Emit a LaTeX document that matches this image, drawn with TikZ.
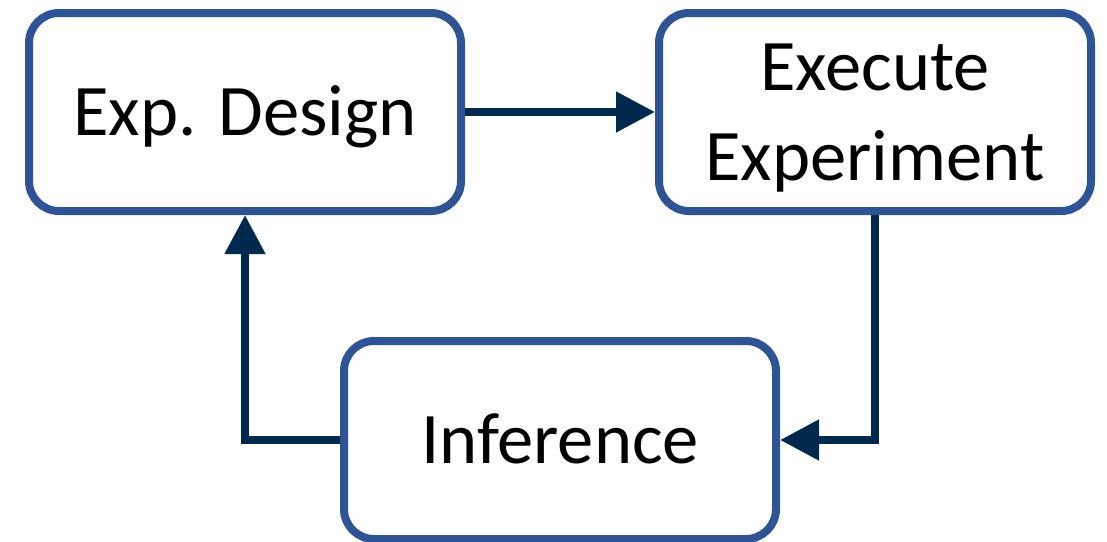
\documentclass[tikz,border=0pt]{standalone}
\usepackage{fontspec}
\setmainfont{Carlito}
\usepackage{xcolor}
\usepackage{tikz}
\usetikzlibrary{arrows.meta,positioning}

\definecolor{boxblue}{RGB}{47,84,150}
\definecolor{navy}{RGB}{0,42,77}

\begin{document}
\begin{tikzpicture}[
            x=0.5pt, y=-0.5pt,
            every node/.style={font=\fontsize{36.3}{45}\selectfont},
            nd/.style={draw=boxblue, line width=4pt, rounded corners=15pt, fill=white,
                       minimum width=216pt, minimum height=99pt, align=center, inner sep=0pt,
                       text height=30pt, text depth=6.6pt},
            arr/.style={-{Triangle[length=19.5pt,width=19.5pt]}, draw=navy, line width=4pt},
        ]
            \useasboundingbox (0,0) rectangle (1107,541);
            \node[nd] (design) at (245,112) {Exp. Design};
            \node[nd, text height=75pt] (execute) at (875,112) {Execute\\Experiment};
            \node[nd] (infer) at (560,440) {Inference};
            \draw[arr] (design) -- (execute);
            \draw[arr] (execute.south) |- (infer.east);
            \draw[arr] (infer.west) -| (design.south);
        \end{tikzpicture}
\end{document}
